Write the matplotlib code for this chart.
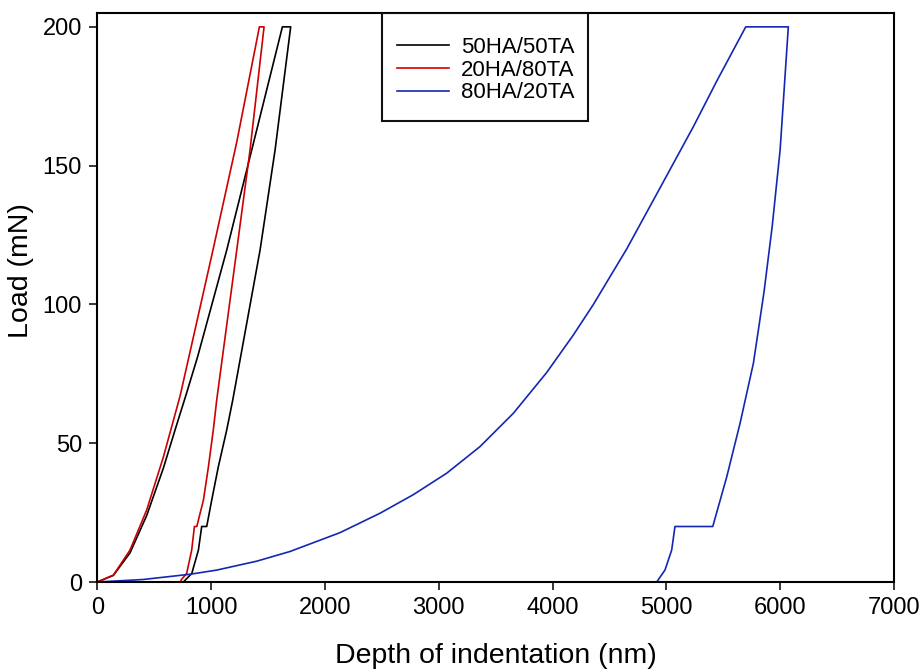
import matplotlib
matplotlib.use("Agg")
import matplotlib.pyplot as plt
from matplotlib.patches import Rectangle

plt.rcParams["font.family"] = ["Liberation Sans", "DejaVu Sans"]

# depth (nm) / load (mN), loading -> hold -> unloading
black_depth = [0, 141, 287, 434, 580, 683, 780, 880, 1000, 1137, 1357, 1626,
               1699,
               1562, 1430, 1190, 1137, 1063, 1005, 961, 917, 888, 830, 756]
black_load = [0, 2.4, 10.5, 24, 41, 54.8, 67.5, 81, 99, 119.6, 155.7, 200,
              200,
              155.7, 119.6, 65.6, 54.8, 41.5, 29.5, 20, 20, 11.5, 3.1, 0]

red_depth = [0, 141, 287, 434, 580, 727, 903, 1016, 1225, 1424,
             1465,
             1342, 1225, 1049, 1019, 976, 932, 874, 853, 829, 785, 741, 727, 230]
red_load = [0, 2.5, 11.5, 26, 45, 67, 99, 119.6, 158.5, 200,
            200,
            155.7, 119.6, 65.6, 54.8, 41.5, 29.5, 20, 20, 11.5, 3.1, 1, 0, 0]

blue_depth = [0, 400, 815, 1049, 1400, 1693, 2133, 2485, 2778, 3070, 3363,
              3656, 3949, 4183, 4359, 4652, 4945, 5237, 5450, 5698,
              6072,
              6000, 5930, 5860, 5809, 5765, 5648, 5531, 5408, 5076, 5047, 4988, 4915]
blue_load = [0, 0.9, 2.8, 4.3, 7.5, 11, 17.8, 24.8, 31.5, 39.2, 48.8,
             60.8, 75.5, 89, 100, 120, 142, 164, 181, 200,
             200,
             155.7, 128, 105, 90.8, 78.8, 57.2, 37.9, 20, 20, 11.5, 4.3, 0]

series = [
    ("50HA/50TA", black_depth, black_load, "#000000"),
    ("20HA/80TA", red_depth, red_load, "#cc0000"),
    ("80HA/20TA", blue_depth, blue_load, "#1426b4"),
]

fig = plt.figure(figsize=(9.21, 6.72), dpi=100)
ax = fig.add_axes([0.1057, 0.1339, 0.8649, 0.8468])

for name, xs, ys, color in series:
    ax.plot(xs, ys, color=color, linewidth=1.2, label=name)

ax.set_xlim(0, 7000)
ax.set_ylim(0, 205)
ax.set_xticks([0, 1000, 2000, 3000, 4000, 5000, 6000, 7000])
ax.set_yticks([0, 50, 100, 150, 200])
ax.tick_params(direction="out", length=6, width=1.1, labelsize=17, pad=5)
for spine in ax.spines.values():
    spine.set_linewidth(1.5)

ax.set_xlabel("Depth of indentation (nm)", fontsize=20.5, labelpad=17)
ax.set_ylabel("Load (mN)", fontsize=20.5)
ax.yaxis.set_label_coords(-0.0795, 0.548)

# legend box drawn by hand so the padding can match the reference
ax.add_patch(Rectangle((0.357, 0.8107), 0.259, 0.1893, transform=ax.transAxes,
                       fill=False, edgecolor="#111111", linewidth=1.5, zorder=5))
ax.legend(loc="upper left", bbox_to_anchor=(0.376, 0.958), frameon=False,
          fontsize=16, handlelength=2.34, handletextpad=0.54, labelspacing=0.08,
          borderpad=0, borderaxespad=0)

fig.savefig("out.png", dpi=100)
